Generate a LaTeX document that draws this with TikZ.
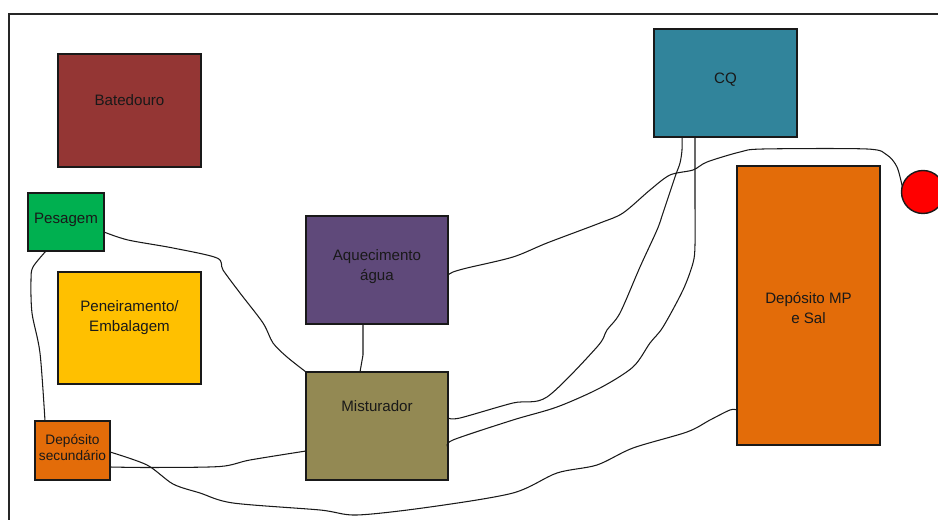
\documentclass[tikz,border=0pt]{standalone}
\usepackage{fontspec}
\setmainfont{Liberation Sans}
\usetikzlibrary{calc}
\usetikzlibrary{positioning}

\definecolor{batcol}{HTML}{943634}
\definecolor{pescol}{HTML}{00B050}
\definecolor{pencol}{HTML}{FFC000}
\definecolor{depcol}{HTML}{E36C09}
\definecolor{aqcol}{HTML}{5F497A}
\definecolor{mistcol}{HTML}{938953}
\definecolor{cqcol}{HTML}{31849B}

\begin{document}
\begin{tikzpicture}[x=0.02cm, y=-0.02cm,
    room/.style={draw=black!90, line width=0.8pt, inner sep=0, outer sep=0},
    lbl/.style={font=\fontsize{8.6}{11.3}\selectfont, align=center, text=black!90},
    lblsmall/.style={font=\fontsize{7.8}{9.6}\selectfont, align=center, text=black!90},
    wire/.style={draw=black!90, line width=0.6pt}
  ]
  \path[use as bounding box, clip] (0,0) rectangle (938,520);
  \draw[line width=0.9pt, black!85] (9,520) -- (9,14) -- (938,14);

  \node[room, fill=batcol, minimum width=2.86cm, minimum height=2.26cm,
    label={[lbl, yshift=0.2cm]center:Batedouro}] (bat) at (129.5,110.5) {};
  \node[room, fill=pescol, minimum width=1.52cm, minimum height=1.16cm,
    label={[lbl, yshift=0.04cm]center:Pesagem}] (pes) at (66,222) {};
  \node[room, fill=pencol, minimum width=2.86cm, minimum height=2.24cm,
    label={[lbl, yshift=0.2cm]center:Peneiramento/\\Embalagem}] (pen) at (129.5,328) {};
  \node[room, fill=depcol, minimum width=1.5cm, minimum height=1.18cm,
    label={[lblsmall, yshift=0.06cm]center:Depósito\\secundário}] (dsec) at (72.5,450.5) {};
  \node[room, fill=aqcol, minimum width=2.84cm, minimum height=2.16cm,
    label={[lbl, yshift=0.06cm]center:Aquecimento\\água}] (aq) at (377,270) {};
  \node[room, fill=mistcol, minimum width=2.84cm, minimum height=2.16cm,
    label={[lbl, yshift=0.4cm]center:Misturador}] (mist) at (377,426) {};
  \node[room, fill=cqcol, minimum width=2.86cm, minimum height=2.16cm,
    label={[lbl, yshift=0.06cm]center:CQ}] (cq) at (725.5,83) {};
  \node[room, fill=depcol, minimum width=2.86cm, minimum height=5.58cm,
    label={[lbl, yshift=-0.05cm]center:Depósito MP\\e Sal}] (dmp) at (808.5,305.5) {};
  \node[room, circle, fill=red, minimum size=0.86cm] (saida) at (923,192) {};

  \coordinate (pes_out1) at ($(pes.east)+(0,10)$);
  \coordinate (pes_out2) at ($(pes.south)+(-20,0)$);
  \coordinate (dsec_in1) at ($(dsec.north)+(-27.5,0)$);
  \coordinate (dsec_out1) at ($(dsec.east)+(0,1.5)$);
  \coordinate (dsec_out2) at ($(dsec.east)+(0,16.5)$);
  \coordinate (dmp_in1) at ($(dmp.west)+(0,104.5)$);
  \coordinate (aq_out1) at ($(aq.south)+(-14,0)$);
  \coordinate (aq_out2) at ($(aq.east)+(0,5)$);
  \coordinate (cq_out1) at ($(cq.south)+(-43.5,0)$);
  \coordinate (cq_out2) at ($(cq.south)+(-30.5,0)$);
  \coordinate (mist_in1) at (mist.north west);
  \coordinate (mist_in2) at ($(mist.west)+(0,25)$);
  \coordinate (mist_in3) at ($(mist.north)+(-17,0)$);
  \coordinate (mist_in4) at ($(mist.east)+(0,-8)$);
  \coordinate (mist_in5) at ($(mist.east)+(0,21)$);

  \draw[wire] plot[smooth, tension=0.5] coordinates {(pes_out1) (128,240) (173,248)
    (217,258) (223,270) (240,293) (263,323) (273,343) (287,357) (mist_in1)};
  \draw[wire] plot[smooth, tension=0.5] coordinates {(pes_out2) (33,267) (31,280)
    (32,313) (40,353) (dsec_in1)};
  \draw[wire] plot[smooth, tension=0.5] coordinates {(dsec_out1) (147,465) (173,484)
    (200,493) (233,503) (320,510) (357,515) (430,507) (513,493) (557,473) (597,465)
    (633,448) (687,432) (710,420) (730,410) (dmp_in1)};
  \draw[wire] plot[smooth, tension=0.5] coordinates {(dsec_out2) (150,467.5) (220,466.5)
    (250,460) (mist_in2)};
  \draw[wire] (aq_out1) -- (363,355) -- (mist_in3);
  \draw[wire] plot[smooth, tension=0.5] coordinates {(aq_out2) (453,272) (467,268)
    (513,257) (547,243) (600,223) (623,213) (650,190) (670,175) (693,170) (707,162)
    (740,152) (763,149) (867,149) (887,155) (897,167) (saida.165)};
  \draw[wire] plot[smooth, tension=0.5] coordinates {(cq_out1) (682,150) (680,163)
    (675,177) (663,213) (657,230) (640,267) (620,313) (607,330) (597,347) (547,397)
    (513,403) (460,418) (mist_in4)};
  \draw[wire] plot[smooth, tension=0.5] coordinates {(cq_out2) (695,200) (695,245)
    (693,263) (683,290) (663,327) (650,343) (633,367) (600,388) (557,407) (513,420)
    (453,440) (mist_in5)};
\end{tikzpicture}
\end{document}
